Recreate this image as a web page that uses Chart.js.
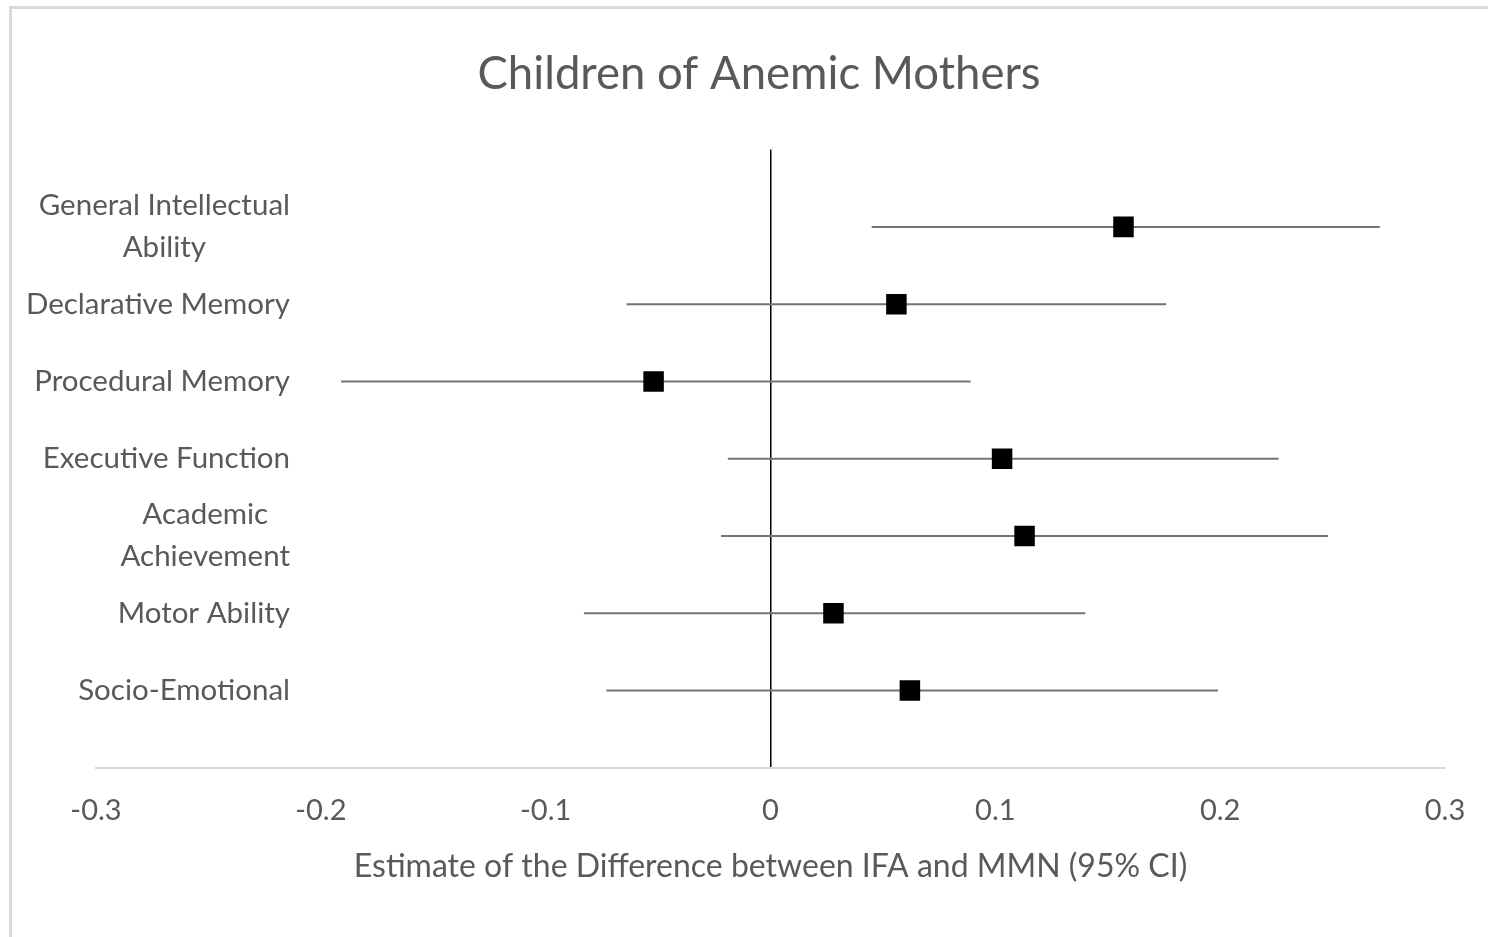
<!DOCTYPE html>
<html>
<head>
<meta charset="utf-8">
<title>Children of Anemic Mothers</title>
<script src="https://cdn.jsdelivr.net/npm/chart.js@4/dist/chart.umd.min.js"></script>
<style>
  html, body { margin: 0; padding: 0; background: #ffffff; overflow: hidden; }
  canvas { display: block; }
</style>
</head>
<body>
<canvas id="forest" width="1488" height="937"></canvas>
<script>
// Outcome domains, top to bottom (each entry holds the lines of its label)
const categories = [
  ['General Intellectual', 'Ability'],
  ['Declarative Memory'],
  ['Procedural Memory'],
  ['Executive Function'],
  ['Academic', 'Achievement'],
  ['Motor Ability'],
  ['Socio-Emotional']
];

// Estimated difference between IFA and MMN, with 95% confidence limits
const estimates = [0.157, 0.056, -0.052, 0.103, 0.113, 0.028, 0.062];
const lowerCI   = [0.045, -0.064, -0.191, -0.019, -0.022, -0.083, -0.073];
const upperCI   = [0.271, 0.176, 0.089, 0.226, 0.248, 0.140, 0.199];

// Horizontal axis ticks
const xTicks = [-0.3, -0.2, -0.1, 0, 0.1, 0.2, 0.3];
const xTickLabels = ['-0.3', '-0.2', '-0.1', '0', '0.1', '0.2', '0.3'];

const FONT = 'Lato, "Open Sans", "DejaVu Sans", sans-serif';
const TEXT = '#595959';

// Row position on the vertical scale (first domain sits at the top)
const rowOf = i => categories.length - i;

const ciDatasets = categories.map((c, i) => ({
  type: 'line',
  data: [{ x: lowerCI[i], y: rowOf(i) }, { x: upperCI[i], y: rowOf(i) }],
  borderColor: '#737373',
  borderWidth: 2,
  pointRadius: 0,
  fill: false,
  order: 1
}));

const pointDataset = {
  type: 'scatter',
  data: estimates.map((v, i) => ({ x: v, y: rowOf(i) })),
  pointStyle: 'rect',
  pointRadius: 14.5,
  pointBackgroundColor: '#000000',
  pointBorderWidth: 0,
  order: 0
};

// Outer frame of the chart
const framePlugin = {
  id: 'frame',
  beforeDraw(chart) {
    const ctx = chart.ctx;
    ctx.save();
    ctx.fillStyle = '#ffffff';
    ctx.fillRect(0, 0, chart.width, chart.height);
    ctx.strokeStyle = '#d9d9d9';
    ctx.lineWidth = 3;
    ctx.strokeRect(10.5, 7.5, chart.width + 40, chart.height + 40);
    ctx.restore();
  }
};

// Domain labels: right-aligned block, lines centred within the block
const rowLabelPlugin = {
  id: 'rowLabels',
  afterDraw(chart) {
    const ctx = chart.ctx;
    const yScale = chart.scales.y;
    const right = chart.chartArea.left + 194;
    const lineGap = 42;
    ctx.save();
    ctx.font = '29.5px ' + FONT;
    ctx.fillStyle = TEXT;
    ctx.textAlign = 'center';
    ctx.textBaseline = 'middle';
    categories.forEach((lines, i) => {
      const cy = yScale.getPixelForValue(rowOf(i));
      const blockW = Math.max(...lines.map(l => ctx.measureText(l).width));
      const cx = right - blockW / 2;
      lines.forEach((line, j) => {
        ctx.fillText(line, cx, cy + (j - (lines.length - 1) / 2) * lineGap);
      });
    });
    ctx.restore();
  }
};

new Chart(document.getElementById('forest'), {
  type: 'scatter',
  data: { datasets: [pointDataset, ...ciDatasets] },
  options: {
    responsive: false,
    animation: false,
    events: [],
    layout: { padding: { left: 73, right: 43, top: 0, bottom: 47 } },
    plugins: {
      legend: { display: false },
      tooltip: { enabled: false },
      title: {
        display: true,
        text: 'Children of Anemic Mothers',
        color: TEXT,
        font: { family: FONT, size: 45.5, weight: 'normal' },
        padding: { top: 47, bottom: 48 }
      }
    },
    scales: {
      x: {
        type: 'linear',
        min: -0.3,
        max: 0.3,
        afterBuildTicks: s => { s.ticks = xTicks.map(v => ({ value: v })); },
        afterFit: s => { s.paddingLeft = 0; s.paddingRight = 0; },
        ticks: {
          color: TEXT,
          font: { family: FONT, size: 29 },
          padding: 25,
          maxRotation: 0,
          autoSkip: false,
          callback: (v) => xTickLabels[xTicks.indexOf(v)]
        },
        grid: {
          drawTicks: false,
          color: c => (c.tick && c.tick.value === 0 ? '#000000' : 'rgba(0,0,0,0)'),
          lineWidth: 1.5
        },
        border: { display: true, color: '#d9d9d9', width: 2 },
        title: {
          display: true,
          text: 'Estimate of the Difference between IFA and MMN (95% CI)',
          color: TEXT,
          font: { family: FONT, size: 32 },
          padding: { top: -5, bottom: 4 }
        }
      },
      y: {
        type: 'linear',
        min: 0,
        max: categories.length + 1,
        afterFit: s => { s.width = 23; },
        ticks: { display: false },
        grid: { display: false },
        border: { display: false }
      }
    }
  },
  plugins: [framePlugin, rowLabelPlugin]
});
</script>
</body>
</html>
